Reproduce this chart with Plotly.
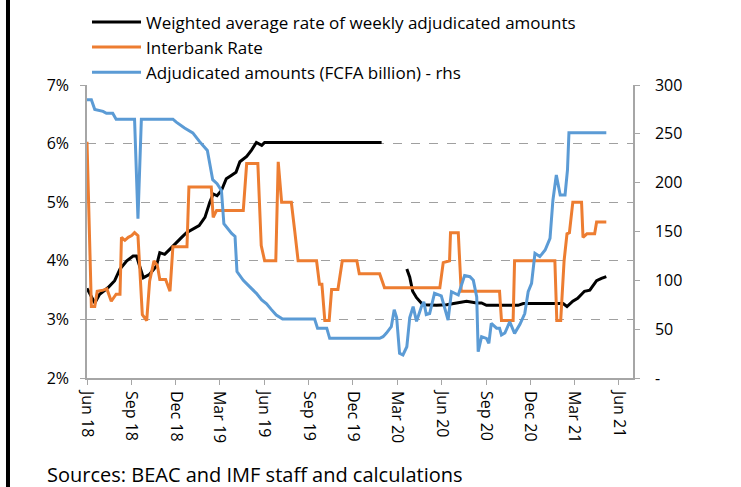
import plotly.graph_objects as go

# Weighted average rate of weekly adjudicated amounts (left axis, %)
wavg_dates = ["2018-06-01","2018-06-17","2018-06-27","2018-07-14","2018-07-28","2018-08-08","2018-08-22",
              "2018-09-04","2018-09-11","2018-09-25","2018-10-08","2018-10-22","2018-10-29","2018-11-08",
              "2018-11-19","2018-12-02","2018-12-13","2018-12-23","2019-01-06","2019-01-18","2019-01-30",
              "2019-02-09","2019-02-16","2019-02-24","2019-03-05","2019-03-15","2019-03-26","2019-04-04",
              "2019-04-12","2019-04-26","2019-05-06","2019-05-16","2019-05-27","2019-06-02","2020-01-29",
              "2020-02-25",
              "2020-03-21","2020-03-27","2020-04-02","2020-04-10","2020-04-23","2020-05-21","2020-06-11",
              "2020-07-01","2020-07-22","2020-08-12","2020-08-22","2020-09-01","2020-11-05","2020-11-16",
              "2021-02-06","2021-02-14","2021-02-26","2021-03-08","2021-03-22","2021-04-02","2021-04-16",
              "2021-04-26","2021-05-06"]
wavg_vals = [3.53,3.28,3.43,3.54,3.66,3.86,4.00,
             4.08,4.08,3.71,3.77,3.91,4.14,4.11,
             4.20,4.30,4.40,4.48,4.54,4.60,4.74,
             5.00,5.14,5.11,5.20,5.40,5.46,5.51,
             5.69,5.78,5.89,6.02,5.97,6.02,6.02,
             None,
             3.86,3.72,3.48,3.37,3.25,3.24,3.25,
             3.28,3.31,3.28,3.28,3.24,3.24,3.27,
             3.27,3.22,3.31,3.36,3.48,3.50,3.66,
             3.70,3.73]

# Interbank rate (left axis, %)
ib_dates = ["2018-06-01","2018-06-10","2018-06-17","2018-06-22","2018-07-04","2018-07-12","2018-07-21",
            "2018-07-31","2018-08-08","2018-08-11","2018-08-18","2018-08-25","2018-09-01","2018-09-07",
            "2018-09-14","2018-09-23","2018-10-02","2018-10-08","2018-10-17","2018-10-24","2018-10-29",
            "2018-11-10","2018-11-19","2018-11-25","2018-12-24","2018-12-28","2019-02-12","2019-02-16",
            "2019-02-23","2019-04-19","2019-04-26","2019-05-19","2019-05-26","2019-06-02","2019-06-25",
            "2019-06-30","2019-07-07","2019-07-27","2019-08-03","2019-08-10","2019-09-17","2019-09-23",
            "2019-09-28","2019-10-04","2019-10-13","2019-10-18","2019-10-31","2019-11-09","2019-12-09",
            "2019-12-14","2020-01-25","2020-02-04","2020-05-28","2020-06-04","2020-06-17","2020-06-19",
            "2020-07-05","2020-07-11","2020-09-28","2020-10-02","2020-10-26","2020-10-29","2021-01-20",
            "2021-01-24","2021-02-01","2021-02-08","2021-02-14","2021-02-19","2021-02-26","2021-03-16",
            "2021-03-19","2021-03-27","2021-04-12","2021-04-16","2021-05-06"]
ib_vals = [6.03,3.22,3.22,3.48,3.50,3.52,3.31,
           3.43,3.43,4.40,4.35,4.40,4.43,4.48,
           4.43,3.08,2.98,3.65,4.00,3.92,3.68,
           3.68,3.48,4.24,4.24,5.26,5.26,4.74,
           4.86,4.86,5.66,5.66,4.26,4.00,4.00,
           5.69,5.00,5.00,4.51,4.00,4.00,3.60,
           3.60,2.98,2.98,3.51,3.51,4.00,4.00,
           3.78,3.78,3.54,3.54,3.97,4.00,4.48,
           4.48,3.48,3.48,2.98,2.98,4.00,4.00,
           2.98,2.98,4.00,4.46,4.48,5.00,5.00,
           4.40,4.46,4.46,4.66,4.66]

# Adjudicated amounts, FCFA billion (right axis)
adj_dates = ["2018-06-01","2018-06-10","2018-06-17","2018-07-04","2018-07-11","2018-07-24","2018-07-31",
             "2018-09-07","2018-09-14","2018-09-21","2018-11-25","2018-12-02","2018-12-19","2019-01-05",
             "2019-01-19","2019-01-30","2019-02-04","2019-02-15","2019-02-24","2019-03-05","2019-03-10",
             "2019-03-26","2019-04-02","2019-04-06","2019-04-19","2019-05-02","2019-05-16","2019-05-27",
             "2019-06-06","2019-06-16","2019-06-26","2019-07-09","2019-09-13","2019-09-19","2019-10-08",
             "2019-10-14","2020-01-25","2020-02-01","2020-02-08","2020-02-18","2020-02-24","2020-02-29",
             "2020-03-06","2020-03-13","2020-03-21","2020-03-27","2020-04-03","2020-04-10","2020-04-20",
             "2020-04-25","2020-04-30","2020-05-07","2020-05-17","2020-05-31","2020-06-14","2020-06-21",
             "2020-07-05","2020-07-18","2020-07-29","2020-08-05","2020-08-12","2020-08-15","2020-08-22",
             "2020-09-01","2020-09-06","2020-09-11","2020-09-22","2020-09-28","2020-10-02","2020-10-09",
             "2020-10-19","2020-10-29","2020-11-09","2020-11-19","2020-11-26","2020-12-03","2020-12-10",
             "2020-12-20","2020-12-31","2021-01-10","2021-01-16","2021-01-23","2021-01-31","2021-02-10",
             "2021-02-15","2021-02-18","2021-05-06"]
adj_vals = [285,285,275,273,271,271,265,
            265,163,265,265,262,256,251,
            242,235,233,203,199,192,158,
            148,145,109,100,93.5,86.7,80,
            76,70,64.5,60.4,60.4,51,51,
            40.6,40.6,42.3,46,52.6,70,62,
            25.3,23.6,32,62,73,58,73,
            78,65,66,86.7,84,59.4,88.4,
            85,105,103.7,100,83,27,42.3,
            40.6,35.6,56,51,51,44,46,
            57.6,45.7,55,66,88.4,97,127.7,
            124.3,131,143,182,207.8,187.4,187.4,
            213,251,251]

tick_vals = ["2018-06-01","2018-09-01","2018-12-01","2019-03-01","2019-06-01","2019-09-01","2019-12-01",
             "2020-03-01","2020-06-01","2020-09-01","2020-12-01","2021-03-01","2021-06-01"]
tick_text = ["Jun 18","Sep 18","Dec 18","Mar 19","Jun 19","Sep 19","Dec 19",
             "Mar 20","Jun 20","Sep 20","Dec 20","Mar 21","Jun 21"]
rhs_ticks = [0, 50, 100, 150, 200, 250, 300]
rhs_text = ["-", "50", "100", "150", "200", "250", "300"]
lhs_ticks = [2, 3, 4, 5, 6, 7]
lhs_text = ["2%", "3%", "4%", "5%", "6%", "7%"]

FONT = "Open Sans"
fig = go.Figure()
fig.add_trace(go.Scatter(x=wavg_dates, y=wavg_vals, mode="lines", connectgaps=False,
                         name="Weighted average rate of weekly adjudicated amounts",
                         line=dict(color="#000000", width=3)))
fig.add_trace(go.Scatter(x=ib_dates, y=ib_vals, mode="lines", name="Interbank Rate",
                         line=dict(color="#ED7D31", width=3)))
fig.add_trace(go.Scatter(x=adj_dates, y=adj_vals, mode="lines", yaxis="y2",
                         name="Adjudicated amounts (FCFA billion) - rhs",
                         line=dict(color="#5B9BD5", width=3)))

axis_gray = "#A6A6A6"
fig.update_layout(
    width=741, height=487,
    margin=dict(l=87, r=108, t=85, b=109, autoexpand=False),
    paper_bgcolor="white", plot_bgcolor="white",
    font=dict(family=FONT, size=15, color="#000000"),
    showlegend=True,
    legend=dict(x=0.0, y=1.275, xanchor="left", yanchor="top", bgcolor="rgba(0,0,0,0)",
                font=dict(family=FONT, size=17), itemwidth=49, tracegroupgap=0),
    xaxis=dict(type="date", range=["2018-06-01", "2021-06-30"], tickmode="array",
               tickvals=tick_vals, ticktext=tick_text, tickangle=90,
               showgrid=False, showline=True, linecolor=axis_gray, linewidth=1.5,
               ticks="outside", ticklen=5, tickcolor=axis_gray, tickfont=dict(size=16),
               ticklabelstandoff=3),
    yaxis=dict(range=[2, 7], tickmode="array", tickvals=lhs_ticks, ticktext=lhs_text,
               showgrid=True, gridcolor="#A0A0A0", griddash="dash", gridwidth=1,
               showline=True, linecolor=axis_gray, linewidth=1.5, zeroline=False,
               ticks="outside", ticklen=5, tickcolor=axis_gray, tickfont=dict(size=16),
               ticklabelstandoff=8),
    yaxis2=dict(range=[0, 300], overlaying="y", side="right", tickmode="array",
                tickvals=rhs_ticks, ticktext=rhs_text, showgrid=False, zeroline=False,
                showline=True, linecolor=axis_gray, linewidth=1.5,
                ticks="outside", ticklen=5, tickcolor=axis_gray, tickfont=dict(size=16),
                ticklabelstandoff=12),
    annotations=[dict(text="Sources: BEAC and IMF staff and calculations", xref="paper", yref="paper",
                      x=-0.077, y=-0.328, xanchor="left", yanchor="middle", showarrow=False,
                      font=dict(family=FONT, size=20))],
    shapes=[dict(type="line", xref="paper", yref="paper", x0=-0.1447, x1=-0.1447, y0=-0.4, y1=1.35,
                 line=dict(color="black", width=4))],
)
fig.write_html("out.html", config={"displayModeBar": False},
               post_script="document.body.style.margin='0';document.body.style.overflow='hidden';")
